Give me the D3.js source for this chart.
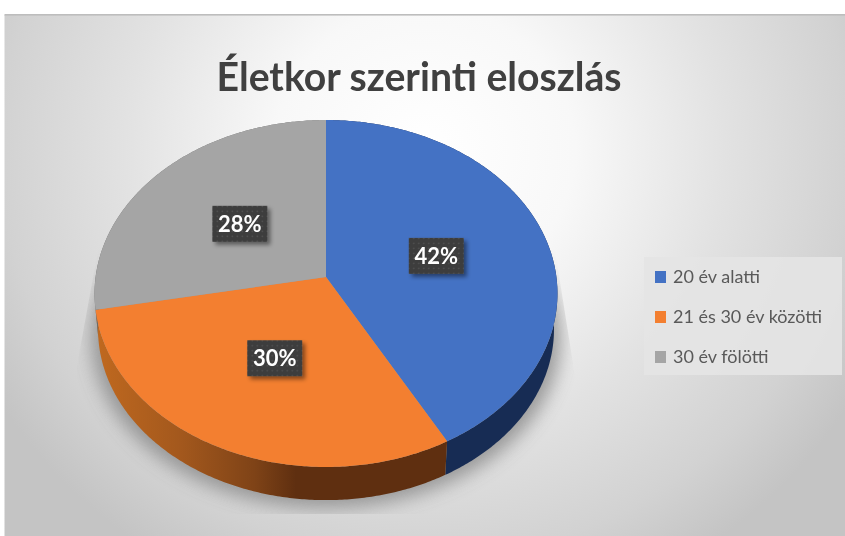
<!DOCTYPE html>
<html><head><meta charset="utf-8">
<script src="https://d3js.org/d3.v7.min.js"></script>
<style>html,body{margin:0;padding:0;background:#fff}svg{display:block;filter:blur(.45px)}</style>
</head><body><svg id="c" width="845" height="536"></svg>
<script>
const titleText = "Életkor szerinti eloszlás";
const categories = ["20 év alatti", "21 és 30 év közötti", "30 év fölötti"];
const values = [42, 30, 28];
const labels = ["42%", "30%", "28%"];
const topColors = ["#4472c4", "#f37f30", "#a5a5a5"];

const svg = d3.select("#c");
const defs = svg.append("defs");
const W = 845, H = 536;

// background
const bg = defs.append("radialGradient").attr("id","bg").attr("gradientUnits","userSpaceOnUse")
  .attr("cx",0).attr("cy",0).attr("r",1)
  .attr("gradientTransform","translate(425,150) scale(500,480)");
[[0,"#ffffff"],[.3,"#f8f8f8"],[.6,"#e2e2e2"],[.85,"#d2d2d2"],[1,"#c4c4c4"]].forEach(s=>bg.append("stop").attr("offset",s[0]).attr("stop-color",s[1]));
svg.append("rect").attr("x",4.5).attr("y",15).attr("width",W-4.5).attr("height",H-15).attr("fill","url(#bg)");
svg.append("rect").attr("x",4.5).attr("y",14).attr("width",W-4.5).attr("height",1.6).attr("fill","#bdbdbd");

// perspective projection of the pie disc
const cx = 326, cy = 277, A = 230.4, B = 171.9, k = 0.0951, depth = 33, shrink = 0.985;
function proj(a, r = 1) {
  const u = Math.sin(a) * r, v = -Math.cos(a) * r, d = 1 - k * v;
  return [cx + A * u / d, cy + B * v / d];
}
function low(a) {
  const p = proj(a);
  return [cx + (p[0] - cx) * shrink, cy + (p[1] - cy) * shrink + depth + 3];
}
const line = d3.line();
function steps(a0, a1) {
  const n = Math.max(2, Math.ceil((a1 - a0) / 0.01));
  return d3.range(n + 1).map(i => a0 + (a1 - a0) * i / n);
}
const arcs = d3.pie().sort(null)(values);

// blurred floor shadow
const fb = defs.append("filter").attr("id","soft").attr("x","-20%").attr("y","-20%").attr("width","140%").attr("height","140%");
fb.append("feGaussianBlur").attr("stdDeviation",9);
defs.append("clipPath").attr("id","shClip").append("path")
  .attr("d", line([[98,250],[555,250],[578,395],[600,514],[60,514],[78,360]])+"Z");
const full = steps(0, 2 * Math.PI);
svg.append("g").attr("clip-path","url(#shClip)").append("path")
  .attr("d", line(full.map(a => { const p = low(a); return [p[0] + (p[0]-cx)*.03, p[1] + 8]; })) + "Z")
  .attr("fill","#8c8c8c").attr("opacity",.85).attr("filter","url(#soft)");

// side walls
const og = defs.append("linearGradient").attr("id","sideO").attr("gradientUnits","userSpaceOnUse").attr("x1",95).attr("x2",340).attr("y1",0).attr("y2",0);
[[0,"#c0691f"],[.35,"#a3581d"],[.65,"#7f4317"],[.82,"#5f2f10"],[1,"#5f2f10"]].forEach(s=>og.append("stop").attr("offset",s[0]).attr("stop-color",s[1]));
const sideFill = ["#172c54", "url(#sideO)", "#6b6b6b"];
svg.append("g").selectAll("path").data(arcs).join("path")
  .attr("d", d => {
    const t = steps(d.startAngle, d.endAngle);
    return line(t.map(a => proj(a)).concat(t.slice().reverse().map(low))) + "Z";
  })
  .attr("fill", (d, i) => sideFill[i]);

// top faces
svg.append("g").selectAll("path").data(arcs).join("path")
  .attr("d", d => line([[cx, cy]].concat(steps(d.startAngle, d.endAngle).map(a => proj(a)))) + "Z")
  .attr("fill", (d, i) => topColors[i]);

// data labels
const pat = defs.append("pattern").attr("id","dots").attr("patternUnits","userSpaceOnUse").attr("width",5).attr("height",5);
pat.append("rect").attr("width",5).attr("height",5).attr("fill","#3d3d3d");
pat.append("circle").attr("cx",2.5).attr("cy",2.5).attr("r",.8).attr("fill","#555");
const ds = defs.append("filter").attr("id","ds").attr("x","-30%").attr("y","-30%").attr("width","170%").attr("height","170%");
ds.append("feDropShadow").attr("dx",3).attr("dy",3).attr("stdDeviation",2).attr("flood-color","#000").attr("flood-opacity",.45);
const lab = svg.append("g").selectAll("g").data(arcs).join("g")
  .attr("transform", d => { const p = proj((d.startAngle + d.endAngle) / 2, .5); return `translate(${p[0]},${p[1]})`; });
lab.append("rect").attr("x",-27.5).attr("y",-18).attr("width",55).attr("height",36).attr("fill","url(#dots)").attr("filter","url(#ds)");
lab.append("text").attr("text-anchor","middle").attr("y",8).attr("fill","#fff")
  .attr("font-family","Lato, 'Open Sans', sans-serif").attr("font-weight",700).attr("font-size",22)
  .text((d, i) => labels[i]);

// title
svg.append("text").attr("x",419).attr("y",91).attr("text-anchor","middle")
  .attr("font-family","Lato, sans-serif").attr("font-weight",700).attr("font-size",41).attr("fill","#404040")
  .attr("textLength",405).attr("lengthAdjust","spacingAndGlyphs").text(titleText);

// legend
svg.append("rect").attr("x",644).attr("y",257).attr("width",198).attr("height",118).attr("fill","#e4e4e4").attr("opacity",.9);
const ly = d3.scalePoint().domain(categories).range([277, 357]);
const lg = svg.append("g").selectAll("g").data(categories).join("g").attr("transform", d => `translate(655,${ly(d)})`);
lg.append("rect").attr("y",-6).attr("width",11).attr("height",12).attr("fill",(d,i)=>topColors[i]);
lg.append("text").attr("x",18).attr("y",6).attr("font-family","Lato, sans-serif").attr("font-size",18).attr("fill","#595959").text(d=>d);
</script></body></html>
